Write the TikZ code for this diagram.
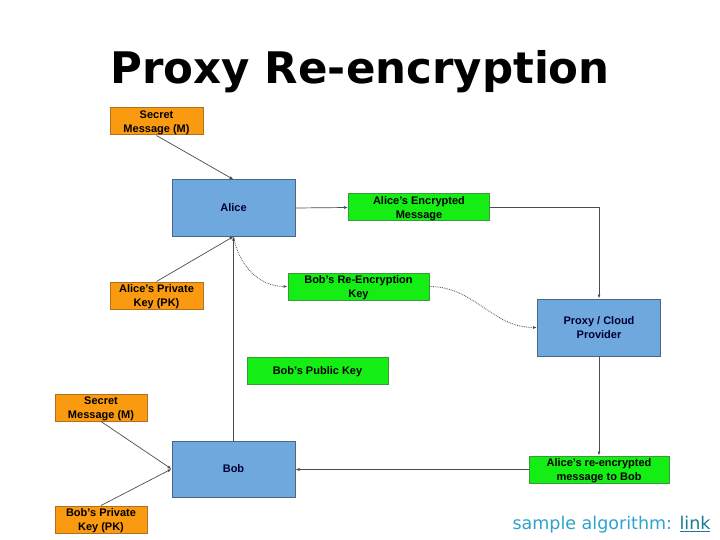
\documentclass[tikz,border=0pt]{standalone}
\usepackage{fontspec}
\setmainfont{Liberation Sans}
\newfontfamily\titlefont{DejaVu Sans}
\usetikzlibrary{arrows.meta}
\definecolor{keyorange}{HTML}{FA9A10}
\definecolor{keyorangeline}{HTML}{B07020}
\definecolor{partyblue}{HTML}{6FA8DC}
\definecolor{partyblueline}{HTML}{4A6688}
\definecolor{msggreen}{HTML}{14EE14}
\definecolor{msggreenline}{HTML}{3A9A3A}
\definecolor{linkblue}{HTML}{2CA2CC}
\definecolor{linkdark}{HTML}{1A7A94}
\begin{document}
\begin{tikzpicture}[x=1pt,y=-1pt,
    box/.style={rectangle, align=center, inner sep=1pt, line width=1pt, text depth=0pt,
        font=\fontsize{11}{13.5}\selectfont\bfseries},
    keybox/.style={box, fill=keyorange, draw=keyorangeline, minimum width=93pt, minimum height=27pt},
    msgbox/.style={box, fill=msggreen, draw=msggreenline, minimum width=141pt, minimum height=27pt},
    partybox/.style={box, fill=partyblue, draw=partyblueline, minimum width=123pt, minimum height=56pt, text=black!80!blue},
    flow/.style={draw=black!70, line width=0.7pt, -{Latex[length=4pt,width=3pt]}},
    keyflow/.style={flow, line width=0.8pt, densely dotted}]
    \useasboundingbox (0,0) rectangle (720,540);

    % Title
    \node (title) at (360,72) {\titlefont\bfseries\fontsize{43.5}{48}\selectfont Proxy Re-encryption};

    % Alice side
    \node[keybox] (secretA) at (156.5,121.5) {Secret\\Message (M)};
    \node[partybox] (alice) at (233.5,208) {Alice};
    \node[keybox] (alicepk) at (156.5,295.5) {Alice's Private\\Key (PK)};

    % Messages and keys
    \node[msgbox] (encmsg) at (419,207.5) {Alice's Encrypted\\Message};
    \node[msgbox] (rekey) at (358.5,286.5) {Bob's Re-Encryption\\Key};
    \node[msgbox] (bobpub) at (317.5,370.5) {Bob's Public Key};
    \node[msgbox, minimum width=140pt] (reenc) at (599,469.5) {Alice's re-encrypted\\message to Bob};

    % Proxy
    \node[partybox, minimum height=57pt] (proxy) at (599,327.5) {Proxy / Cloud\\Provider};

    % Bob side
    \node[keybox, minimum width=92pt] (secretB) at (101,407.5) {Secret\\Message (M)};
    \node[partybox] (bob) at (233.5,469) {Bob};
    \node[keybox, minimum width=92pt] (bobpk) at (101,519.5) {Bob's Private\\Key (PK)};

    % Connectors
    \draw[flow] (secretA.south) -- (alice.north);
    \draw[flow] (alicepk.north) -- (alice.south);
    \draw[flow] (bob.north) -- (alice.south);
    \draw[flow] (alice.east) -- (encmsg.west);
    \draw[flow] (encmsg.east) -| (proxy.north);
    \draw[flow] (proxy.south) -- (reenc.north);
    \draw[flow] (reenc.west) -- (bob.east |- reenc.west);
    \draw[flow] (secretB.south) -- (bob.west);
    \draw[flow] (bobpk.north) -- (bob.west);
    \draw[keyflow] (alice.south) to[out=-80,in=180] (rekey.west);
    \draw[keyflow] (rekey.east) to[out=0,in=180] (proxy.west);

    % Footer
    \node[anchor=east, font=\titlefont\fontsize{17.5}{20}\selectfont, text=linkblue] (sample) at (714,525)
        {sample algorithm: \textcolor{linkdark}{\underline{link}}};
\end{tikzpicture}
\end{document}
